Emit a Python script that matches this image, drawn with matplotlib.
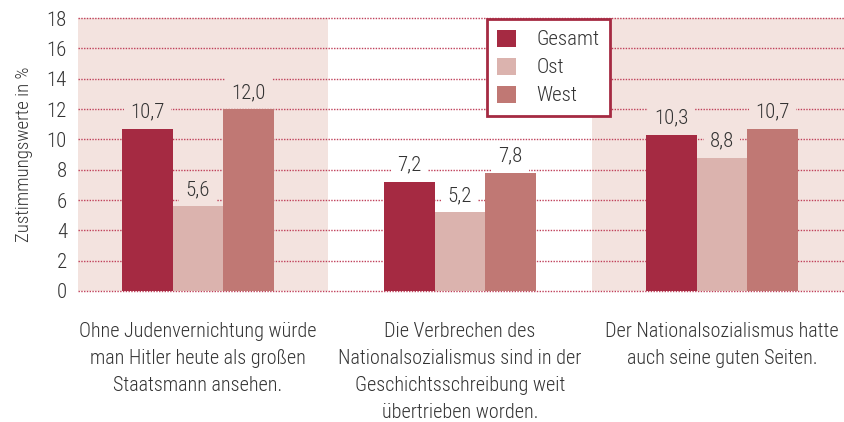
import matplotlib
matplotlib.use("Agg")
import matplotlib.pyplot as plt
import numpy as np

plt.rcParams['font.family'] = ['Roboto Condensed', 'Fira Sans Condensed', 'DejaVu Sans']
plt.rcParams['font.weight'] = 'light'
plt.rcParams['axes.labelweight'] = 'light'

categories = [
    "Ohne Judenvernichtung würde\nman Hitler heute als großen\nStaatsmann ansehen.",
    "Die Verbrechen des\nNationalsozialismus sind in der\nGeschichtsschreibung weit\nübertrieben worden.",
    "Der Nationalsozialismus hatte\nauch seine guten Seiten.",
]
series_names = ["Gesamt", "Ost", "West"]
gesamt = [10.7, 7.2, 10.3]
ost = [5.6, 5.2, 8.8]
west = [12.0, 7.8, 10.7]
yticks = [0, 2, 4, 6, 8, 10, 12, 14, 16, 18]

colors = ["#a52a42", "#dbb3ae", "#c07874"]
shade = "#f3e3df"
grid_c = "#c0405a"
text_c = "#333333"

fig = plt.figure(figsize=(8.45, 4.22), dpi=100)
ax = fig.add_axes([78/845, 131/422, 1 - 78/845, (291-18)/422])

x = np.arange(len(categories))
w = 0.193
ax.set_xlim(-0.458, 2.47)
ax.set_ylim(0, 18)

panel_bg = [shade, "white", shade]
for i, c in enumerate(panel_bg):
    if c != "white":
        ax.axvspan(i - 0.497, i + 0.497, color=c, zorder=0, lw=0)

for yv in yticks:
    ax.axhline(yv, color=grid_c, lw=1.0, ls=(0, (1, 1)), zorder=1, clip_on=False)

for k, (vals, name) in enumerate(zip([gesamt, ost, west], series_names)):
    xs = x + (k - 1) * w
    ax.bar(xs, vals, width=w, color=colors[k], label=name, zorder=2, lw=0)
    for xi, v, bg in zip(xs, vals, panel_bg):
        ax.annotate(f"{v:.1f}".replace(".", ","), (xi, v), xytext=(0, 5),
                    textcoords="offset points", ha="center", va="bottom",
                    fontsize=15, color=text_c, zorder=3,
                    bbox=dict(boxstyle="square,pad=0.3", fc=bg, ec="none"))

ax.set_xticks(x)
ax.set_xticklabels(categories, fontsize=14.5, color=text_c, linespacing=1.55, va="top")
ax.set_yticks(yticks)
ax.set_yticklabels([str(t) for t in yticks], fontsize=15, color=text_c)
ax.tick_params(axis="both", length=0)
ax.tick_params(axis="x", pad=22)
ax.tick_params(axis="y", pad=8)
for s in ax.spines.values():
    s.set_visible(False)

ax.set_ylabel("Zustimmungswerte in %", fontsize=13.5, color=text_c, labelpad=10,
              fontweight="light")

leg = ax.legend(loc="upper left", bbox_to_anchor=((487-78)/767, 0.996), fontsize=15,
                frameon=True, fancybox=False, framealpha=1, edgecolor="#a52a42",
                handlelength=0.88, handleheight=0.88, labelspacing=0.4,
                handletextpad=1.0, borderpad=0.5, borderaxespad=0)
leg.get_frame().set_linewidth(2)
for t in leg.get_texts():
    t.set_color(text_c)

fig.savefig("out.png", dpi=100)
